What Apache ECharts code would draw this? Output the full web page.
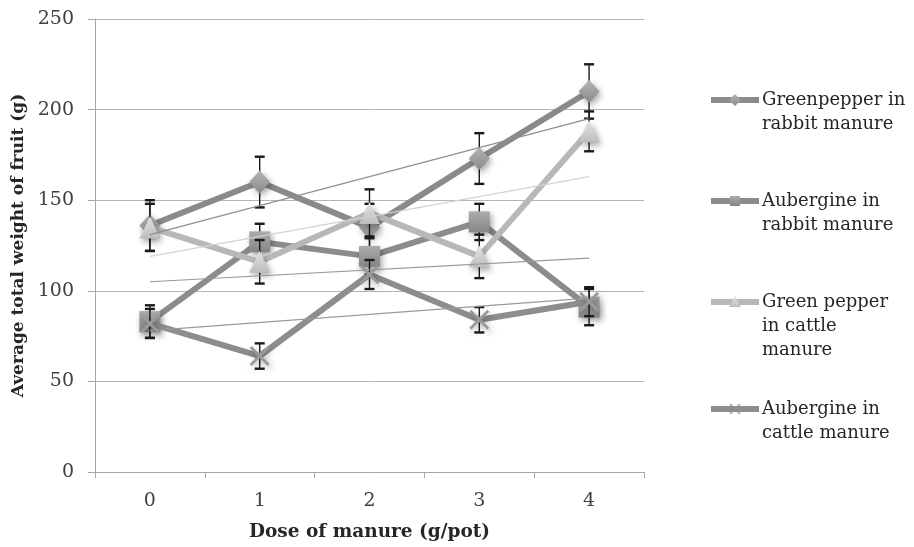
<!DOCTYPE html>
<html>
<head>
<meta charset="utf-8">
<script src="https://cdn.jsdelivr.net/npm/echarts@6/dist/echarts.min.js"></script>
<style>html,body{margin:0;padding:0;background:#fff}#c{width:914px;height:547px}</style>
</head>
<body>
<div id="c"></div>
<script>
// ---- data ----
const categories = ['0', '1', '2', '3', '4'];
const yTicks = [0, 50, 100, 150, 200, 250];
const seriesNames = ['Greenpepper in\nrabbit manure', 'Aubergine in\nrabbit manure', 'Green pepper\nin cattle\nmanure', 'Aubergine in\ncattle manure'];
const gpRabbit = [136, 160, 135, 173, 210];
const gpRabbitErr = [14, 14, 13, 14, 15];
const aubRabbit = [83, 127, 119, 138, 91];
const aubRabbitErr = [9, 10, 10, 10, 10];
const gpCattle = [135, 116, 143, 119, 188];
const gpCattleErr = [13, 12, 13, 12, 11];
const aubCattle = [82, 64, 109, 84, 94];
const aubCattleErr = [8, 7, 8, 7, 8];
// trend line values at dose 0 and dose 4
const gpRabbitTrend = [131, 195];
const aubRabbitTrend = [105, 118];
const gpCattleTrend = [119, 163];
const aubCattleTrend = [78, 96];

const FONT = 'DejaVu Serif';
const chart = echarts.init(document.getElementById('c'));

const lineColors = ['#8a8a8a', '#8c8c8c', '#b8b8b8', '#8d8d8d'];
const trendColors = ['#8f8f8f', '#9a9a9a', '#d2d2d2', '#9a9a9a'];
const grad = (a, b) => new echarts.graphic.LinearGradient(0, 0, 0, 1, [{offset: 0, color: a}, {offset: 1, color: b}]);
const markerFills = [grad('#b4b4b4', '#8a8a8a'), grad('#acacac', '#858585'), grad('#e4e4e4', '#bdbdbd'), '#9a9a9a'];
const XPATH = 'path://M0,1 L1,0 L5,4 L9,0 L10,1 L6,5 L10,9 L9,10 L5,6 L1,10 L0,9 L4,5 Z';
const symbols = ['diamond', 'rect', 'triangle', XPATH];
const symbolSizes = [[21, 23], 21, [21, 22], 20];

const values = [gpRabbit, aubRabbit, gpCattle, aubCattle];
const errs = [gpRabbitErr, aubRabbitErr, gpCattleErr, aubCattleErr];
const trends = [gpRabbitTrend, aubRabbitTrend, gpCattleTrend, aubCattleTrend];

const series = [];
values.forEach((v, i) => {
  series.push({
    type: 'custom', name: 'err' + i, z: 3 + 2 * i, silent: true, animation: false,
    data: v.map((y, k) => [k, y - errs[i][k], y + errs[i][k]]),
    renderItem: function (params, api) {
      const lo = api.coord([api.value(0), api.value(1)]);
      const hi = api.coord([api.value(0), api.value(2)]);
      const hw = 5;
      const st = {stroke: '#1a1a1a', lineWidth: 1.4};
      const cap = {stroke: '#1a1a1a', lineWidth: 2.4};
      return {type: 'group', children: [
        {type: 'line', shape: {x1: hi[0], y1: hi[1], x2: lo[0], y2: lo[1]}, style: st},
        {type: 'line', shape: {x1: hi[0] - hw, y1: hi[1], x2: hi[0] + hw, y2: hi[1]}, style: cap},
        {type: 'line', shape: {x1: lo[0] - hw, y1: lo[1], x2: lo[0] + hw, y2: lo[1]}, style: cap}
      ]};
    }
  });
  series.push({
    type: 'line', name: seriesNames[i], data: v, z: 4 + 2 * i,
    lineStyle: {color: lineColors[i], width: 6},
    symbol: symbols[i], symbolSize: symbolSizes[i], showAllSymbol: true,
    itemStyle: {color: markerFills[i], borderWidth: 0,
      shadowBlur: 6, shadowColor: 'rgba(0,0,0,0.35)', shadowOffsetX: 2, shadowOffsetY: 3},
    emphasis: {disabled: true}, animation: false
  });
});
trends.forEach((t, i) => {
  series.push({
    type: 'line', name: 'trend' + i, data: [[0, t[0]], [categories.length - 1, t[1]]], z: 12,
    lineStyle: {color: trendColors[i], width: 1.2}, symbol: 'none', silent: true, animation: false
  });
});

// legend (drawn as graphics)
const legendTops = [100, 201, 302, 409];
const legendGraphics = [];
seriesNames.forEach((name, i) => {
  const y = legendTops[i];
  legendGraphics.push({type: 'line', shape: {x1: 711, y1: y, x2: 759, y2: y}, style: {stroke: lineColors[i], lineWidth: 6}, z: 20});
  let marker;
  if (i === 0) marker = {type: 'polygon', shape: {points: [[735, y - 6], [741, y], [735, y + 6], [729, y]]}, style: {fill: markerFills[0]}};
  else if (i === 1) marker = {type: 'rect', shape: {x: 730, y: y - 5, width: 10, height: 10}, style: {fill: markerFills[1]}};
  else if (i === 2) marker = {type: 'polygon', shape: {points: [[735, y - 6], [741, y + 5], [729, y + 5]]}, style: {fill: markerFills[2]}};
  else marker = {type: 'group', children: [
    {type: 'line', shape: {x1: 730, y1: y - 5, x2: 740, y2: y + 5}, style: {stroke: '#9a9a9a', lineWidth: 1.5}},
    {type: 'line', shape: {x1: 740, y1: y - 5, x2: 730, y2: y + 5}, style: {stroke: '#9a9a9a', lineWidth: 1.5}}]};
  marker.z = 21;
  legendGraphics.push(marker);
  legendGraphics.push({type: 'text', x: 762, y: y - 12, z: 21,
    style: {text: name, font: '18px "' + FONT + '"', fill: '#262626', lineHeight: 24, verticalAlign: 'top'}});
});

chart.setOption({
  animation: false,
  textStyle: {fontFamily: FONT},
  grid: {left: 95, right: 270, top: 19, bottom: 74, containLabel: false},
  xAxis: {
    type: 'category', data: categories, boundaryGap: true,
    name: 'Dose of manure (g/pot)', nameLocation: 'middle', nameGap: 51,
    nameTextStyle: {fontFamily: FONT, fontWeight: 'bold', fontSize: 18.5, color: '#262626'},
    axisLine: {lineStyle: {color: '#a6a6a6', width: 1}},
    axisTick: {show: true, length: 6, lineStyle: {color: '#a6a6a6'}},
    axisLabel: {fontFamily: FONT, fontSize: 19, color: '#404040', margin: 20},
    splitLine: {show: false}
  },
  yAxis: {
    type: 'value', min: yTicks[0], max: yTicks[yTicks.length - 1], interval: 50,
    name: 'Average total weight of fruit (g)', nameLocation: 'middle', nameGap: 66, nameRotate: 90,
    nameTextStyle: {fontFamily: FONT, fontWeight: 'bold', fontSize: 17, color: '#262626'},
    axisLine: {show: true, lineStyle: {color: '#a6a6a6', width: 1}},
    axisTick: {show: true, length: 7, lineStyle: {color: '#a6a6a6'}},
    axisLabel: {fontFamily: FONT, fontSize: 19, color: '#404040', margin: 21},
    splitLine: {show: true, lineStyle: {color: '#b4b4b4', width: 1}}
  },
  graphic: legendGraphics,
  series: series
});
</script>
</body>
</html>
